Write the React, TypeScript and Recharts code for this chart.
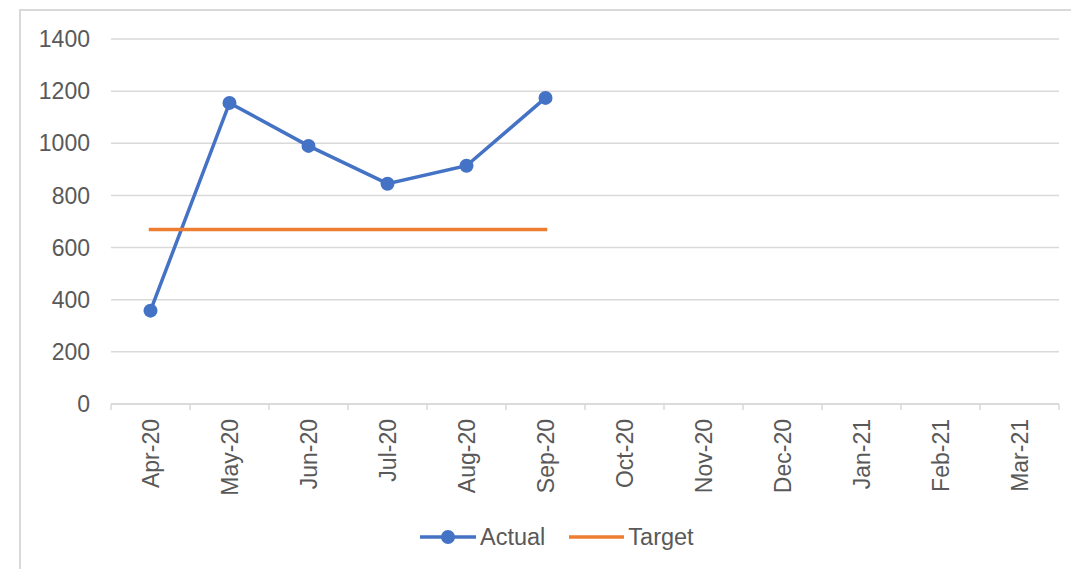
import React from 'react';
import { CartesianGrid, Legend, Line, LineChart, XAxis, YAxis } from 'recharts';

const months = [
  'Apr-20', 'May-20', 'Jun-20', 'Jul-20', 'Aug-20', 'Sep-20',
  'Oct-20', 'Nov-20', 'Dec-20', 'Jan-21', 'Feb-21', 'Mar-21',
];
const actual: (number | null)[] = [358, 1155, 990, 845, 914, 1174, null, null, null, null, null, null];
const target: (number | null)[] = [669, 669, 669, 669, 669, 669, null, null, null, null, null, null];
const yTicks = [0, 200, 400, 600, 800, 1000, 1200, 1400];

const BLUE = '#4472C4';
const ORANGE = '#ED7D31';
const GRID = '#d9d9d9';
const TEXT = '#595959';
const FONT = '"Liberation Sans", Arial, sans-serif';

const rows = months.map((month, i) => ({ month, actual: actual[i], target: target[i] }));

// Excel-style category tick: marks sit on the band edges, label rotated under the band centre
function MonthTick(props: any) {
  const { x, y, payload } = props;
  const half = payload.offset ?? 0;
  const isLast = payload.value === months[months.length - 1];
  return (
    <g>
      <line x1={x - half} x2={x - half} y1={y} y2={y + 6} stroke={GRID} strokeWidth={1.5} />
      {isLast && <line x1={x + half} x2={x + half} y1={y} y2={y + 6} stroke={GRID} strokeWidth={1.5} />}
      <text
        x={x}
        y={y + 15}
        transform={`rotate(-90 ${x} ${y + 15})`}
        textAnchor="end"
        dy="0.35em"
        fill={TEXT}
        fontSize={23}
        fontFamily={FONT}
      >
        {payload.value}
      </text>
    </g>
  );
}

function ChartLegend() {
  return (
    <div style={{ display: 'flex', alignItems: 'center', height: 40, paddingLeft: 420, fontFamily: FONT, fontSize: 23.5, color: TEXT }}>
      <svg width={56} height={16}>
        <line x1={0} x2={56} y1={8} y2={8} stroke={BLUE} strokeWidth={3.5} />
        <circle cx={28} cy={8} r={7} fill={BLUE} />
      </svg>
      <span style={{ marginLeft: 4 }}>Actual</span>
      <svg width={55} height={16} style={{ marginLeft: 24 }}>
        <line x1={0} x2={55} y1={8} y2={8} stroke={ORANGE} strokeWidth={3.5} />
      </svg>
      <span style={{ marginLeft: 4 }}>Target</span>
    </div>
  );
}

export default function App() {
  return (
    <div style={{ position: 'absolute', left: 0, top: 0, width: 1071, height: 569, overflow: 'hidden', background: '#fff' }}>
      <div
        style={{
          position: 'absolute', left: 19, top: 9, width: 1200, height: 700,
          borderTop: `2px solid ${GRID}`, borderLeft: `2px solid ${GRID}`,
        }}
      />
      <LineChart
        width={1071}
        height={569}
        data={rows}
        margin={{ top: 39, right: 12, bottom: 12, left: 0 }}
        style={{ position: 'absolute', left: 0, top: 0 }}
      >
        <CartesianGrid vertical={false} stroke={GRID} strokeWidth={1.5} />
        <XAxis
          dataKey="month"
          scale="band"
          interval={0}
          height={113}
          tickSize={0}
          tickMargin={0}
          tickLine={false}
          axisLine={{ stroke: GRID, strokeWidth: 1.5 }}
          tick={<MonthTick />}
        />
        <YAxis
          width={111}
          domain={[0, 1400]}
          ticks={yTicks}
          axisLine={false}
          tickLine={false}
          tickSize={0}
          tickMargin={21}
          tick={{ fill: TEXT, fontSize: 23, fontFamily: FONT }}
        />
        <Legend verticalAlign="bottom" height={40} content={<ChartLegend />} />
        <Line
          dataKey="actual"
          stroke={BLUE}
          strokeWidth={3.5}
          dot={{ r: 7, fill: BLUE, stroke: BLUE, strokeWidth: 0 }}
          activeDot={false}
          isAnimationActive={false}
        />
        <Line
          dataKey="target"
          stroke={ORANGE}
          strokeWidth={3.5}
          strokeLinecap="square"
          dot={false}
          activeDot={false}
          isAnimationActive={false}
        />
      </LineChart>
    </div>
  );
}
